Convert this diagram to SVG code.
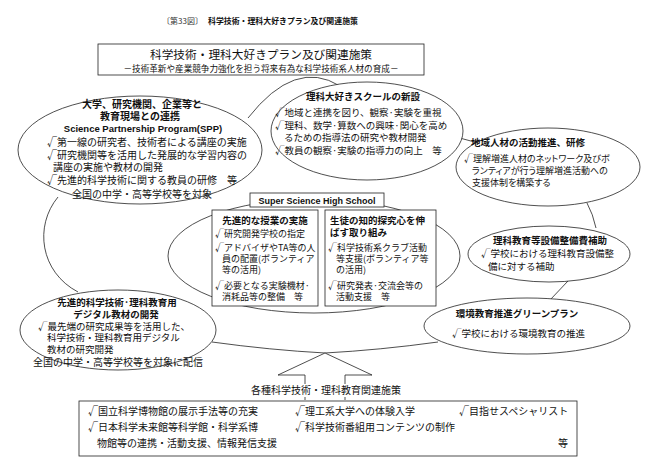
<svg xmlns="http://www.w3.org/2000/svg" width="653" height="461" viewBox="0 0 653 461">
<style>
text{font-family:"Noto Sans CJK JP","Noto Sans CJK SC",sans-serif;fill:#111;}
.t{font-size:10px;}
.s{font-size:9.5px;}
.b{font-size:9px;}
.xs{font-size:9px;font-feature-settings:"palt";}
.h{font-size:9.5px;font-weight:bold;}
.lat{font-family:"Liberation Sans","Noto Sans CJK JP",sans-serif;font-weight:bold;}
.c{text-anchor:middle;}
.shape{fill:#fff;stroke:#222;stroke-width:0.8;}
.line{fill:none;stroke:#222;stroke-width:0.8;}
</style>
<rect width="653" height="461" fill="#fff"/>

<g id="title">
<text x="162" y="24" style="font-size:8px;fill:#333">〔第33図〕</text>
<text x="208" y="24" style="font-size:7.9px;font-weight:bold">科学技術・理科大好きプラン及び関連施策</text>
</g>

<g id="header">
<rect class="shape" x="98" y="44" width="326" height="31"/>
<text class="c" x="261" y="58.5" style="font-size:11.7px">科学技術・理科大好きプラン及び関連施策</text>
<text class="c" x="261" y="72" style="font-size:8.6px">－技術革新や産業競争力強化を担う将来有為な科学技術系人材の育成－</text>
</g>

<g id="connectors">
<path class="line" d="M248,118 Q295,58 340,86"/>
<path class="line" d="M456,137 L482,144"/>
<path class="line" d="M587,203 Q593,214 596,228"/>
<path class="line" d="M568,281 L550,300"/>
<path class="line" d="M438,342 Q380,350 325,353 Q270,350 212,342"/>
<path class="line" d="M78,292 C40,272 34,226 58,197"/>
<path class="shape" d="M305,400 L305,375 L278,375 L325,353 L372,375 L345,375 L345,400"/>
</g>

<g id="spp">
<ellipse class="shape" cx="140" cy="150" rx="122" ry="54"/>
<text class="c" x="142" y="108" style="font-size:10px;font-weight:bold">大学、研究機関、企業等と</text>
<text class="c" x="140" y="119.5" style="font-size:10px;font-weight:bold">教育現場との連携</text>
<text class="c lat" x="143" y="132" style="font-size:9.5px">Science Partnership Program(SPP)</text>
<text class="t" x="47" y="146">√第一線の研究者、技術者による講座の実施</text>
<text class="t" x="47" y="159">√研究機関等を活用した発展的な学習内容の</text>
<text class="t" x="53" y="171">講座の実施や教材の開発</text>
<text class="t" x="47" y="184">√先進的科学技術に関する教員の研修　等</text>
<text class="t" x="72" y="198">全国の中学・高等学校等を対象</text>
</g>

<g id="rika-school">
<ellipse class="shape" cx="367" cy="131" rx="96" ry="49"/>
<text class="c h" x="363" y="100">理科大好きスクールの新設</text>
<text class="s" x="275" y="116">√地域と連携を図り、観察·実験を重視</text>
<text class="s" x="275" y="129">√理科、数学·算数への興味·関心を高め</text>
<text class="s" x="284" y="141">るための指導法の研究や教材開発</text>
<text class="s" x="275" y="154">√教員の観察·実験の指導力の向上　等</text>
</g>

<g id="chiiki">
<ellipse class="shape" cx="548" cy="167" rx="92" ry="39"/>
<text class="c h" x="528" y="146">地域人材の活動推進、研修</text>
<text class="xs" x="464" y="162">√理解増進人材のネットワーク及びボ</text>
<text class="xs" x="472" y="174">ランティアが行う理解増進活動への</text>
<text class="xs" x="472" y="186">支援体制を構築する</text>
</g>

<g id="ssh">
<ellipse class="shape" cx="314" cy="256" rx="146" ry="57"/>
<rect class="shape" x="250" y="193" width="134" height="14"/>
<text class="c lat" x="317" y="203.5" style="font-size:9px">Super Science High School</text>
<rect class="shape" x="212" y="210" width="106" height="96"/>
<text class="c h" x="265" y="224">先進的な授業の実施</text>
<text class="b" x="215" y="237">√研究開発学校の指定</text>
<text class="b" x="215" y="251">√アドバイザやTA等の人</text>
<text class="b" x="222" y="262">員の配置(ボランティア</text>
<text class="b" x="222" y="273">等の活用)</text>
<text class="b" x="215" y="289">√必要となる実験機材·</text>
<text class="b" x="222" y="300">消耗品等の整備　等</text>
<rect class="shape" x="325" y="210" width="111" height="96"/>
<text class="h" x="330" y="224">生徒の知的探究心を伸</text>
<text class="h" x="330" y="236">ばす取り組み</text>
<text class="b" x="328" y="251">√科学技術系クラブ活動</text>
<text class="b" x="336" y="262">等支援(ボランティア等</text>
<text class="b" x="336" y="273">の活用)</text>
<text class="b" x="328" y="289">√研究発表·交流会等の</text>
<text class="b" x="336" y="300">活動支援　等</text>
</g>

<g id="setsubi">
<ellipse class="shape" cx="549" cy="254" rx="81" ry="28"/>
<text class="c h" x="550" y="244">理科教育等設備整備費補助</text>
<text class="s" x="481" y="257">√学校における理科教育設備整</text>
<text class="s" x="488" y="270">備に対する補助</text>
</g>

<g id="green">
<ellipse class="shape" cx="527" cy="326" rx="103" ry="28"/>
<text class="c h" x="517" y="317">環境教育推進グリーンプラン</text>
<text class="s" x="452" y="337">√学校における環境教育の推進</text>
</g>

<g id="digital">
<ellipse class="shape" cx="118" cy="330" rx="98" ry="40"/>
<text class="c" x="117" y="306" style="font-size:9.5px;font-weight:bold">先進的科学技術·理科教育用</text>
<text class="c" x="116" y="317.5" style="font-size:9.5px;font-weight:bold">デジタル教材の開発</text>
<text class="s" x="38" y="329.5">√最先端の研究成果等を活用した、</text>
<text class="s" x="47" y="341">科学技術・理科教育用デジタル</text>
<text class="s" x="47" y="352.5">教材の研究開発</text>
<text class="t" x="33" y="366">全国の中学・高等学校等を対象に配信</text>
</g>

<g id="kanren">
<rect x="248" y="384" width="156" height="13" fill="#fff"/>
<text class="c t" x="326" y="394">各種科学技術・理科教育関連施策</text>
<rect class="shape" x="79" y="401" width="498" height="55"/>
<text class="t" x="88" y="415">√国立科学博物館の展示手法等の充実</text>
<text class="t" x="295" y="415">√理工系大学への体験入学</text>
<text class="t" x="459" y="415">√目指せスペシャリスト</text>
<text class="t" x="88" y="431">√日本科学未来館等科学館・科学系博</text>
<text class="t" x="295" y="431">√科学技術番組用コンテンツの制作</text>
<text class="t" x="97" y="447">物館等の連携・活動支援、情報発信支援</text>
<text class="t" x="558" y="447">等</text>
</g>
</svg>
